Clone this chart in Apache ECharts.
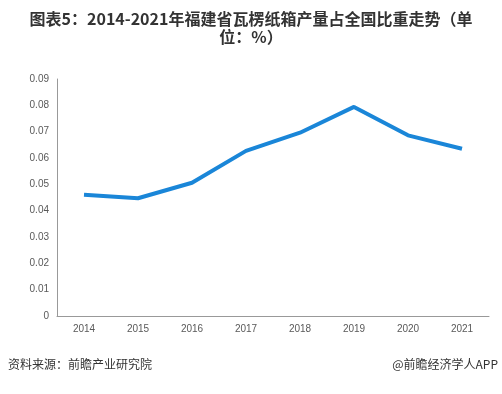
<!DOCTYPE html>
<html><head><meta charset="utf-8">
<script src="https://cdn.jsdelivr.net/npm/echarts@6/dist/echarts.min.js"></script>
<style>html,body{margin:0;padding:0;background:#fff}#c{width:502px;height:394px}</style>
</head><body><div id="c"></div>
<script>
var categories = ['2014','2015','2016','2017','2018','2019','2020','2021'];
var shareValues = [0.046, 0.0447, 0.0506, 0.0627, 0.0696, 0.0794, 0.0686, 0.0635];
var yTicks = [0, 0.01, 0.02, 0.03, 0.04, 0.05, 0.06, 0.07, 0.08, 0.09];
var titleText = '图表5：2014-2021年福建省瓦楞纸箱产量占全国比重走势（单\n位：%）';
var sourceText = '资料来源：前瞻产业研究院';
var brandText = '@前瞻经济学人APP';

var chart = echarts.init(document.getElementById('c'));
chart.setOption({
  backgroundColor: '#fff',
  animation: false,
  title: {
    text: titleText, left: 'center', top: 5,
    textStyle: {fontSize: 16, fontWeight: 'bold', color: '#333', lineHeight: 18, fontFamily: 'Noto Sans CJK SC, Arial, sans-serif'}
  },
  graphic: [
    {type: 'text', left: 8, top: 358, style: {text: sourceText, fontSize: 12, fill: '#333', fontFamily: 'Noto Sans CJK SC, sans-serif'}},
    {type: 'text', right: 4, top: 358, style: {text: brandText, fontSize: 12, fill: '#333', fontFamily: 'Noto Sans CJK SC, sans-serif'}}
  ],
  grid: {left: 57, right: 13, top: 79, bottom: 78, containLabel: false},
  xAxis: {
    type: 'category', data: categories, boundaryGap: true,
    axisLine: {lineStyle: {color: '#999'}}, axisTick: {show: false},
    axisLabel: {color: '#595959', fontSize: 10, margin: 8, fontFamily: 'Arial, sans-serif'}
  },
  yAxis: {
    type: 'value', min: 0, max: 0.09, interval: 0.01,
    axisLine: {show: true, lineStyle: {color: '#999'}}, axisTick: {show: false},
    splitLine: {show: false},
    axisLabel: {color: '#595959', fontSize: 10, margin: 8, fontFamily: 'Arial, sans-serif',
      formatter: function(v){ var s = yTicks.find(function(t){return Math.abs(t-v)<1e-9;}); return s===undefined? '' : (s===0?'0':s.toFixed(2)); }}
  },
  series: [{
    type: 'line', data: shareValues, symbol: 'none',
    lineStyle: {color: '#1a86d8', width: 4}
  }]
});
</script></body></html>
